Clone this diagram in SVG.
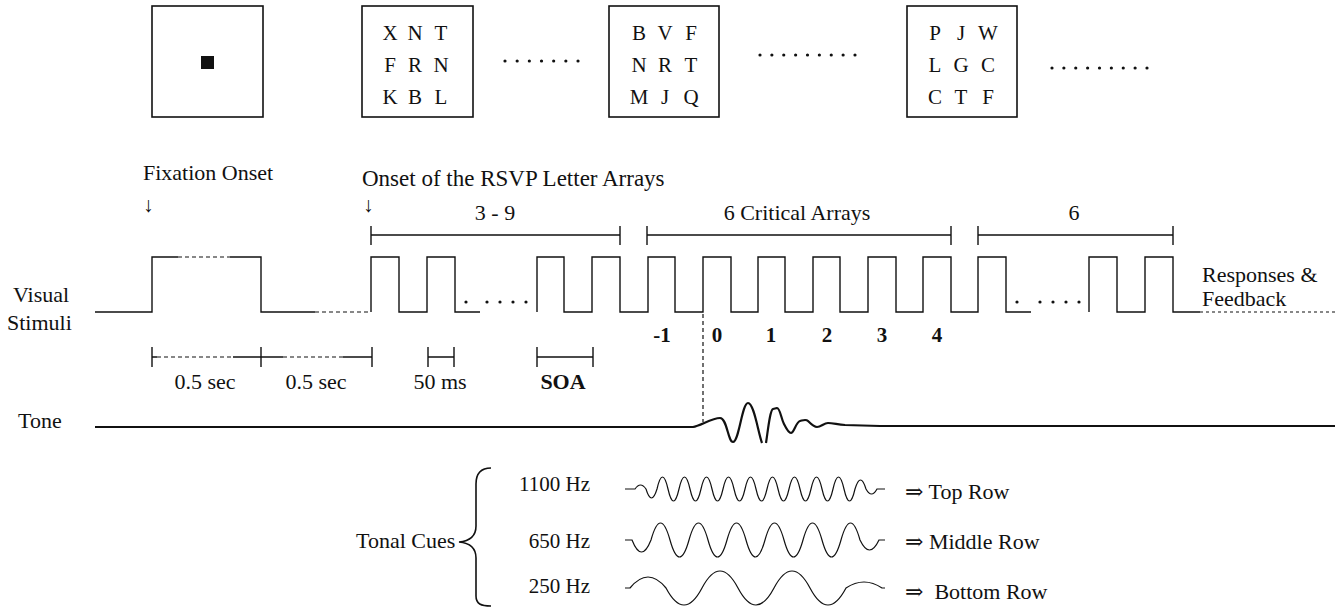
<svg xmlns="http://www.w3.org/2000/svg" width="1340" height="609" viewBox="0 0 1340 609">
<style>
text { font-family: "Liberation Serif", "DejaVu Serif", serif; fill: #111; }
.t { font-size: 22px; }
.m { text-anchor: middle; }
.e { text-anchor: end; }
.a { font-size: 21px; }
.l { font-size: 21px; text-anchor: middle; }
.b { font-size: 21px; font-weight: bold; text-anchor: middle; }
.box { fill: #fff; stroke: #111; stroke-width: 1.6; }
.ln { fill: none; stroke: #111; stroke-width: 1.4; }
.dash { fill: none; stroke: #111; stroke-width: 1.2; stroke-dasharray: 4 3; }
.fine { fill: none; stroke: #111; stroke-width: 1.2; stroke-dasharray: 3 3; }
.dots { fill: none; stroke: #111; stroke-width: 3.2; stroke-linecap: round; }
.wave { fill: none; stroke: #111; stroke-width: 1.2; }
.tone { fill: none; stroke: #111; stroke-width: 2.2; stroke-linejoin: round; }
.dot { fill: #111; }
</style>

<g id="frames">
  <g id="frame-fixation">
    <rect class="box" x="152" y="6" width="111" height="111"/>
    <rect x="201" y="56" width="13" height="13" fill="#111"/>
  </g>
  <g id="frame-1">
    <rect class="box" x="362" y="6" width="111" height="111"/>
    <text class="l" x="390" y="40">X</text><text class="l" x="415" y="40">N</text><text class="l" x="441" y="40">T</text>
    <text class="l" x="390" y="72">F</text><text class="l" x="415" y="72">R</text><text class="l" x="441" y="72">N</text>
    <text class="l" x="390" y="104">K</text><text class="l" x="415" y="104">B</text><text class="l" x="441" y="104">L</text>
  </g>
  <g id="frame-2">
    <rect class="box" x="609" y="6" width="110" height="111"/>
    <text class="l" x="639" y="40">B</text><text class="l" x="665" y="40">V</text><text class="l" x="691" y="40">F</text>
    <text class="l" x="639" y="72">N</text><text class="l" x="665" y="72">R</text><text class="l" x="691" y="72">T</text>
    <text class="l" x="639" y="104">M</text><text class="l" x="665" y="104">J</text><text class="l" x="691" y="104">Q</text>
  </g>
  <g id="frame-3">
    <rect class="box" x="907" y="6" width="110" height="111"/>
    <text class="l" x="935" y="40">P</text><text class="l" x="961" y="40">J</text><text class="l" x="988" y="40">W</text>
    <text class="l" x="935" y="72">L</text><text class="l" x="961" y="72">G</text><text class="l" x="988" y="72">C</text>
    <text class="l" x="935" y="104">C</text><text class="l" x="961" y="104">T</text><text class="l" x="988" y="104">F</text>
  </g>
  <g id="frame-dots">
    <line class="dots" x1="505" y1="61" x2="578.3" y2="61" stroke-dasharray="0 12.17"/>
    <line class="dots" x1="760" y1="55" x2="855.3" y2="55" stroke-dasharray="0 11.875"/>
    <line class="dots" x1="1052" y1="68" x2="1147.3" y2="68" stroke-dasharray="0 11.875"/>
  </g>
</g>

<g id="labels">
  <text class="t" x="143" y="180">Fixation Onset</text>
  <text class="a" x="143" y="212">↓</text>
  <text class="t" x="362" y="186" style="font-size:23px">Onset of the RSVP Letter Arrays</text>
  <text class="a" x="363" y="212">↓</text>
  <text class="t m" x="495" y="220">3 - 9</text>
  <text class="t m" x="797" y="220">6 Critical Arrays</text>
  <text class="t m" x="1074" y="220">6</text>
  <text class="t" x="13" y="302">Visual</text>
  <text class="t" x="7" y="330">Stimuli</text>
  <text class="t" x="1202" y="282">Responses &amp;</text>
  <text class="t" x="1202" y="306">Feedback</text>
  <text class="b" x="662" y="342">-1</text>
  <text class="b" x="717" y="342">0</text>
  <text class="b" x="771" y="342">1</text>
  <text class="b" x="827" y="342">2</text>
  <text class="b" x="882" y="342">3</text>
  <text class="b" x="937" y="342">4</text>
  <text class="t m" x="205" y="389">0.5 sec</text>
  <text class="t m" x="316" y="389">0.5 sec</text>
  <text class="t m" x="440" y="389">50 ms</text>
  <text class="b" x="563" y="389" style="font-size:22px">SOA</text>
  <text class="t" x="18" y="428">Tone</text>
</g>

<g id="connectors">
  <g id="visual-stimuli">
    <path class="ln" d="M95,312 H152 V257 H178 M230,257 H261 V312 H315"/>
    <path class="dash" d="M178,257 H230 M315,312 H371"/>
    <path class="ln" d="M371,312 V257 H399 V312 H427 V257 H455 V312 H480 M537,312 V257 H564 V312 H592 V257 H620 V312 H648 V257 H675 V312 H703 V257 H731 V312 H758 V257 H785 V312 H813 V257 H840 V312 H868 V257 H896 V312 H923 V257 H951 V312 H978 V257 H1006 V312 H1031 M1089,312 V257 H1117 V312 H1145 V257 H1173 V312 H1200"/>
    <path class="fine" d="M1200,312 H1335"/>
    <circle class="dot" cx="466" cy="302" r="1.6"/><circle class="dot" cx="487" cy="302" r="1.6"/><circle class="dot" cx="500" cy="302" r="1.6"/><circle class="dot" cx="513" cy="302" r="1.6"/><circle class="dot" cx="526" cy="302" r="1.6"/>
    <circle class="dot" cx="1017" cy="302" r="1.6"/><circle class="dot" cx="1040" cy="302" r="1.6"/><circle class="dot" cx="1053" cy="302" r="1.6"/><circle class="dot" cx="1066" cy="302" r="1.6"/><circle class="dot" cx="1079" cy="302" r="1.6"/>
  </g>
  <g id="top-brackets">
    <path class="ln" d="M371,235 H620 M371,226 V245 M620,226 V245 M647,235 H951 M647,226 V245 M951,226 V245 M978,235 H1173 M978,226 V245 M1173,226 V245"/>
  </g>
  <g id="bottom-brackets">
    <path class="ln" d="M152,347 V367 M261,347 V367 M372,347 V367 M152,357 H157 M233,357 H283 M343,357 H372 M428,347 V367 M454,347 V367 M428,357 H454 M537,347 V367 M593,347 V367 M537,357 H593"/>
    <path class="dash" d="M157,357 H233 M283,357 H343"/>
  </g>
  <path class="dash" d="M703,314 V422"/>
  <g id="tone-trace">
    <path class="tone" d="M95,427 L693,427 C700,426 712,418 720,418 C727,418 728,442 733,442 C739,442 742,403 748,403 C754,403 758,432 762,443"/>
    <path class="tone" d="M766,443 C768,430 770,410 773,409 L777,408 C780,408 781,418 784,424 C786,428 789,433 791,433 C794,433 796,422 800,421 C804,420 806,419 808,421 C811,424 814,427 817,427 C821,427 824,423 828,423 C832,423 836,424 845,425 L880,426 L1335,426"/>
  </g>
</g>

<g id="tonal-cues">
  <text class="t" x="356" y="548">Tonal Cues</text>
  <path class="ln" style="stroke-width:1.6" d="M491,468 C481,468 476,474 476,484 V526 C476,536 470,541 459,542 C470,543 476,548 476,558 V596 C476,604 481,606 491,606"/>
  <g id="cue-1100">
    <text class="t e" x="590" y="491" style="font-size:21px">1100 Hz</text>
    <path class="wave" d="M625,489 H635 q5.5,-8 11,0 q5.5,18 11,0 q5.5,-24 11,0 q5.5,24 11,0 q5.5,-24 11,0 q5.5,24 11,0 q5.5,-24 11,0 q5.5,24 11,0 q5.5,-24 11,0 q5.5,24 11,0 q5.5,-24 11,0 q5.5,24 11,0 q5.5,-24 11,0 q5.5,24 11,0 q5.5,-24 11,0 q5.5,24 11,0 q5.5,-24 11,0 q5.5,24 11,0 q5.5,-24 11,0 q5.5,24 11,0 q5.5,-18 11,0 q5.5,10 11,0 H885"/>
    <text class="t" x="905" y="499">⇒ Top Row</text>
  </g>
  <g id="cue-650">
    <text class="t e" x="590" y="548" style="font-size:21px">650 Hz</text>
    <path class="wave" d="M625,540 H632 q9.5,24 19,0 q9.5,-34 19,0 q9.5,34 19,0 q9.5,-34 19,0 q9.5,34 19,0 q9.5,-34 19,0 q9.5,34 19,0 q9.5,-34 19,0 q9.5,34 19,0 q9.5,-34 19,0 q9.5,34 19,0 q9.5,-34 19,0 q9.5,20 19,0 H885"/>
    <text class="t" x="905" y="549">⇒ Middle Row</text>
  </g>
  <g id="cue-250">
    <text class="t e" x="590" y="593" style="font-size:21px">250 Hz</text>
    <path class="wave" d="M625,588 H630 q18,-22 36,0 q18,34 36,0 q18,-34 36,0 q18,34 36,0 q18,-34 36,0 q18,34 36,0 q18,-12 36,0 H885"/>
    <text class="t" x="905" y="599">⇒<tspan dx="11">Bottom Row</tspan></text>
  </g>
</g>
</svg>
